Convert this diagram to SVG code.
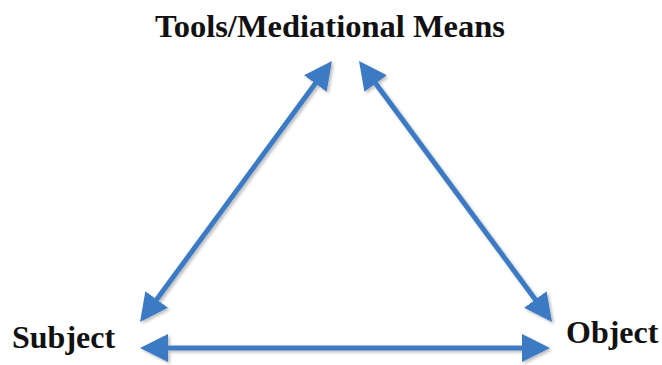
<svg xmlns="http://www.w3.org/2000/svg" width="662" height="365" viewBox="0 0 662 365">
  <defs>
    <marker id="head" viewBox="0 -15 30 30" refX="8" refY="0" markerWidth="30" markerHeight="30" markerUnits="userSpaceOnUse" orient="auto-start-reverse">
      <path d="M0,-14 L28,0 L0,14 z" fill="#3C7AC4"/>
    </marker>
    <filter id="shadow" x="-10%" y="-10%" width="120%" height="120%">
      <feDropShadow dx="2" dy="2" stdDeviation="1.5" flood-color="#000" flood-opacity="0.25"/>
    </filter>
  </defs>
  <style>
    .label { font-family: "Liberation Serif", "Times New Roman", serif; font-weight: bold; font-size: 32px; fill: #111; }
    .link { stroke: #3C7AC4; stroke-width: 5; fill: none; marker-start: url(#head); marker-end: url(#head); }
  </style>
  <rect width="662" height="365" fill="#fff"/>

  <g id="tools">
    <text class="label" x="330" y="37" text-anchor="middle" style="font-size:32.5px">Tools/Mediational Means</text>
  </g>
  <g id="subject">
    <text class="label" x="12" y="348">Subject</text>
  </g>
  <g id="object">
    <text class="label" x="566" y="343">Object</text>
  </g>

  <g id="connectors" filter="url(#shadow)">
    <line class="link" x1="320.1" y1="77.1" x2="151.9" y2="305.9"/>
    <line class="link" x1="370.9" y1="77.1" x2="540.1" y2="305.9"/>
    <line class="link" x1="160" y1="348" x2="530" y2="348"/>
  </g>
</svg>
